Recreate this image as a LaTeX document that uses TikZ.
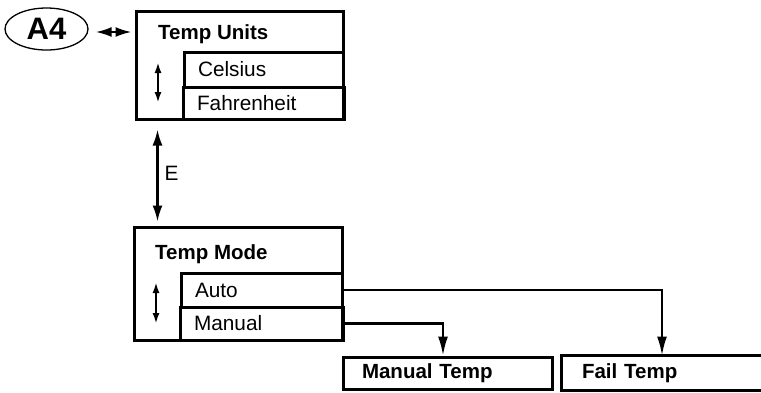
\documentclass[tikz,border=0pt]{standalone}
\usepackage{fontspec}
\setmainfont{Liberation Sans}
\usetikzlibrary{arrows.meta,shapes.geometric}

\begin{document}
\begin{tikzpicture}
  [x=1pt,y=-1pt,
   every node/.style={font=\fontsize{20.8}{24}\selectfont},
   panel/.style={draw,line width=3pt,inner sep=0pt},
   option/.style={draw,line width=3pt,inner sep=0pt,inner xsep=14pt,text width=#1,align=left},
   target/.style={draw,line width=3pt,inner sep=0pt,inner xsep=19pt,minimum height=32pt,align=left,font=\fontsize{20.5}{24}\selectfont\bfseries},
   title/.style={anchor=west,inner sep=0pt,font=\fontsize{20.5}{24}\selectfont\bfseries},
   link/.style={line width=2.2pt,-{Latex[length=19pt,width=10pt]}},
   both/.style={line width=2.2pt,{Latex[length=16pt,width=10pt]}-{Latex[length=16pt,width=10pt]}},
   scroll/.style={line width=2.2pt,{Latex[length=11pt,width=7pt]}-{Latex[length=11pt,width=7pt]}}]
  \useasboundingbox (0,0) rectangle (761,392);

  % first menu
  \node[ellipse,draw,line width=1.3pt,inner sep=0pt,minimum width=83pt,minimum height=42pt,
        font=\fontsize{31}{34}\selectfont\bfseries] (a4) at (46.5,29) {A4};
  \node[panel,minimum width=207pt,minimum height=108pt] (units) at (239.5,65) {};
  \node[title] (unitstitle) at (158,34) {Temp Units};
  \node[option=131pt,minimum height=35pt] (celsius) at (263.5,69.5) {Celsius};
  \node[option=133pt,minimum height=32pt] (fahrenheit) at (263.5,103) {Fahrenheit};
  \coordinate (u1) at (158,62);
  \coordinate (u2) at (158,103);

  % second menu
  \node[panel,minimum width=208pt,minimum height=113pt] (mode) at (238,283.5) {};
  \node[title] (modetitle) at (155,254) {Temp Mode};
  \node[option=133pt,minimum height=34pt] (auto) at (261.5,290) {Auto};
  \node[option=135pt,minimum height=33pt] (manual) at (261.5,323.5) {Manual};
  \coordinate (m1) at (156,282);
  \coordinate (m2) at (156,324);

  % results
  \node[target,minimum width=209pt,text width=171pt] (manualtemp) at (447.5,373) {Manual Temp};
  \node[target,draw=none,minimum width=260pt,text width=222pt] (failtemp) at (693,373) {Fail Temp};
  \draw[line width=3pt] (failtemp.north east) -- (failtemp.north west) -- (failtemp.south west) -- (failtemp.south east);

  \draw[both,shorten <=7pt,shorten >=3pt] ([yshift=-3pt]a4.east) -- ([yshift=-3pt]a4.east -| units.west);
  \draw[both,shorten <=9pt,shorten >=4pt] ([xshift=23pt]units.south west) -- ([xshift=25pt]mode.north west)
    node[midway,right=6pt,inner sep=0pt] {E};
  \draw[scroll] (u1) -- (u2);
  \draw[scroll] (m1) -- (m2);
  \draw[link] (auto.east) -| ([xshift=-31pt]failtemp.north);
  \draw[link] (manual.east) -| ([xshift=-4.5pt]manualtemp.north);

\end{tikzpicture}
\end{document}
